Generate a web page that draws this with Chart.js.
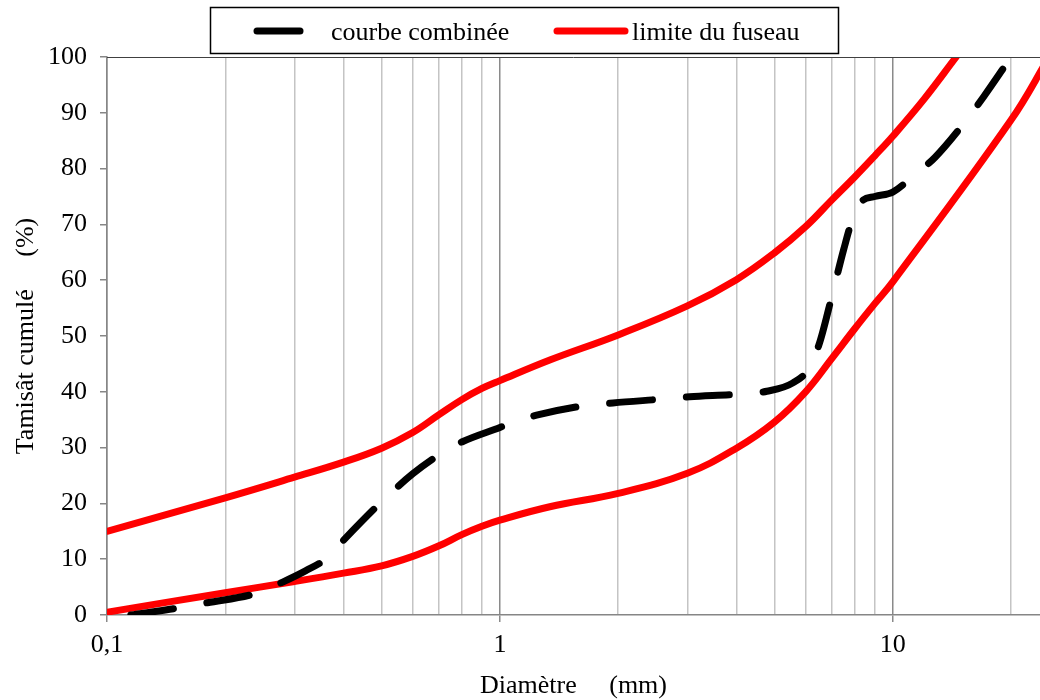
<!DOCTYPE html>
<html lang="fr">
<head>
<meta charset="utf-8">
<title>Courbe granulométrique</title>
<script src="https://cdn.jsdelivr.net/npm/chart.js@4.4.1/dist/chart.umd.min.js"></script>
<style>
  html, body { margin: 0; padding: 0; background: #ffffff; }
  #wrap { width: 1040px; height: 700px; }
</style>
</head>
<body>
<div id="wrap"><canvas id="chart" width="1040" height="700"></canvas></div>
<script>
// Courbe combinée : diamètre (mm) / tamisât cumulé (%)
const combineeDiam = [0.115, 0.153, 0.18, 0.24, 0.28, 0.32, 0.363, 0.4, 0.5, 0.6, 0.7, 0.8, 1, 1.07, 1.24, 1.64, 1.94, 2.6, 3.04, 4.08, 4.78, 5.57, 6.15, 6.52, 7.03, 7.5, 7.9, 8.3, 9, 10, 11.2, 12.8, 15.4, 17, 20];
const combineeTamisat = [0, 1.3, 2.2, 3.9, 5.9, 7.9, 10.2, 13.4, 20.3, 25.3, 28.7, 31, 33.6, 34.4, 35.8, 37.5, 38, 38.7, 39.1, 39.6, 40.1, 41.6, 44.4, 48.9, 57.7, 65.5, 71, 74, 75, 75.8, 78.5, 82, 88.7, 92.8, 100];

// Limite supérieure du fuseau
const fuseauSupDiam = [0.1, 0.2, 0.3, 0.4, 0.5, 0.6, 0.7, 0.8, 0.9, 1, 1.34, 2, 3, 4, 5, 6, 7, 8, 9, 10, 12, 14.5];
const fuseauSupTamisat = [15, 21, 24.7, 27.4, 29.9, 32.7, 35.9, 38.6, 40.6, 42, 45.7, 50.2, 55.4, 60.1, 64.9, 69.6, 74.4, 78.5, 82.3, 85.8, 92.4, 100];

// Limite inférieure du fuseau
const fuseauInfDiam = [0.1, 0.2, 0.3, 0.4, 0.5, 0.6, 0.7, 0.8, 0.9, 1, 1.34, 2, 3, 4, 5, 6, 7, 8, 9, 10, 20, 25];
const fuseauInfTamisat = [0.5, 4.0, 6.0, 7.5, 8.8, 10.5, 12.4, 14.4, 15.9, 17.0, 19.4, 21.8, 25.4, 29.9, 34.6, 40, 46.0, 51.3, 55.8, 59.7, 88.7, 100];

// Graduations de l'axe des diamètres (échelle logarithmique)
const gridDiam = [0.1, 0.2, 0.3, 0.4, 0.5, 0.6, 0.7, 0.8, 0.9, 1, 2, 3, 4, 5, 6, 7, 8, 9, 10, 20];
const xLabelValues = [0.1, 1, 10];
const xLabelTexts = ['0,1', '1', '10'];
const yTicks = [0, 10, 20, 30, 40, 50, 60, 70, 80, 90, 100];

const FONT = '"Liberation Serif", "Times New Roman", serif';
const toPoints = (xs, ys) => xs.map((x, i) => ({ x: x, y: ys[i] }));
const labelIndex = v => xLabelValues.findIndex(l => Math.abs(l - v) < 1e-9);

// Légende encadrée au-dessus du graphique
const boxedLegend = {
  id: 'boxedLegend',
  afterDraw(chart) {
    const ctx = chart.ctx;
    const box = { left: 210.5, top: 7.5, width: 628, height: 46 };
    const slots = [
      { from: 257, to: 318, textX: 331 },
      { from: 557, to: 625, textX: 632 }
    ];
    const lineY = 31, textY = 40;
    ctx.save();
    ctx.strokeStyle = '#000000';
    ctx.lineWidth = 1.5;
    ctx.strokeRect(box.left, box.top, box.width, box.height);
    const items = chart.data.datasets.filter(ds => ds.inLegend !== false);
    items.forEach((ds, i) => {
      const s = slots[i];
      ctx.beginPath();
      ctx.setLineDash(ds.borderDash || []);
      ctx.lineCap = ds.borderCapStyle || 'butt';
      ctx.lineWidth = ds.borderWidth;
      ctx.strokeStyle = ds.borderColor;
      ctx.moveTo(s.from, lineY);
      ctx.lineTo(s.to, lineY);
      ctx.stroke();
      ctx.setLineDash([]);
      ctx.fillStyle = '#000000';
      ctx.font = '26px ' + FONT;
      ctx.textBaseline = 'alphabetic';
      ctx.textAlign = 'left';
      ctx.fillText(ds.label, s.textX, textY);
    });
    ctx.restore();
  }
};

// Fond blanc et bord supérieur de la zone de tracé
const plotFrame = {
  id: 'plotFrame',
  beforeDraw(chart) {
    const ctx = chart.ctx;
    ctx.save();
    ctx.fillStyle = '#ffffff';
    ctx.fillRect(0, 0, chart.width, chart.height);
    ctx.restore();
  },
  afterDatasetsDraw(chart) {
    const ctx = chart.ctx, a = chart.chartArea;
    ctx.save();
    ctx.strokeStyle = '#404040';
    ctx.lineWidth = 1;
    ctx.beginPath();
    ctx.moveTo(a.left, a.top + 0.5);
    ctx.lineTo(a.right, a.top + 0.5);
    ctx.stroke();
    ctx.restore();
  }
};

const redLine = {
  borderColor: '#ff0000',
  borderWidth: 7,
  borderCapStyle: 'round',
  borderJoinStyle: 'round',
  tension: 0.4,
  pointRadius: 0,
  fill: false,
  clip: 0,
  order: 1
};

new Chart(document.getElementById('chart'), {
  type: 'line',
  data: {
    datasets: [
      {
        label: 'courbe combinée',
        data: toPoints(combineeDiam, combineeTamisat),
        borderColor: '#000000',
        borderWidth: 7,
        borderDash: [43, 34],
        borderCapStyle: 'round',
        borderJoinStyle: 'round',
        cubicInterpolationMode: 'monotone',
        pointRadius: 0,
        fill: false,
        clip: 0,
        order: 0
      },
      Object.assign({ label: 'limite du fuseau', data: toPoints(fuseauSupDiam, fuseauSupTamisat) }, redLine),
      Object.assign({ label: 'limite du fuseau', inLegend: false, data: toPoints(fuseauInfDiam, fuseauInfTamisat) }, redLine)
    ]
  },
  options: {
    responsive: false,
    devicePixelRatio: 1,
    animation: false,
    layout: { padding: { top: 57, right: 0, bottom: 0, left: 0 } },
    plugins: {
      legend: { display: false },
      tooltip: { enabled: false }
    },
    scales: {
      x: {
        type: 'logarithmic',
        min: 0.1,
        max: 23.7,
        afterBuildTicks: s => { s.ticks = gridDiam.map(v => ({ value: v, major: labelIndex(v) >= 0 })); },
        afterFit: s => { s.height = 85; },
        ticks: {
          autoSkip: false,
          maxRotation: 0,
          minRotation: 0,
          padding: 8,
          color: '#000000',
          font: { family: FONT, size: 26 },
          callback: v => { const i = labelIndex(v); return i >= 0 ? xLabelTexts[i] : ''; }
        },
        grid: {
          drawOnChartArea: true,
          tickLength: 7,
          lineWidth: 1.5,
          color: c => (labelIndex(c.tick.value) >= 0 ? '#8a8a8a' : '#c4c4c4'),
          tickColor: c => (labelIndex(c.tick.value) >= 0 ? '#8a8a8a' : 'rgba(0,0,0,0)')
        },
        border: { color: '#868686', width: 1.5 },
        title: {
          display: true,
          text: 'Diamètre     (mm)',
          color: '#000000',
          font: { family: FONT, size: 26 },
          padding: { top: 0, bottom: -2 }
        }
      },
      y: {
        min: 0,
        max: 100,
        afterBuildTicks: s => { s.ticks = yTicks.map(v => ({ value: v })); },
        afterFit: s => { s.width = 107; },
        ticks: {
          padding: 13,
          color: '#000000',
          font: { family: FONT, size: 26 }
        },
        grid: {
          drawOnChartArea: false,
          tickLength: 7,
          lineWidth: 1.5,
          color: '#868686',
          tickColor: '#868686'
        },
        border: { color: '#868686', width: 1.5 },
        title: {
          display: true,
          text: 'Tamisât cumulé     (%)',
          color: '#000000',
          font: { family: FONT, size: 26 },
          padding: { top: 11, bottom: 0 }
        }
      }
    }
  },
  plugins: [plotFrame, boxedLegend]
});
</script>
</body>
</html>
